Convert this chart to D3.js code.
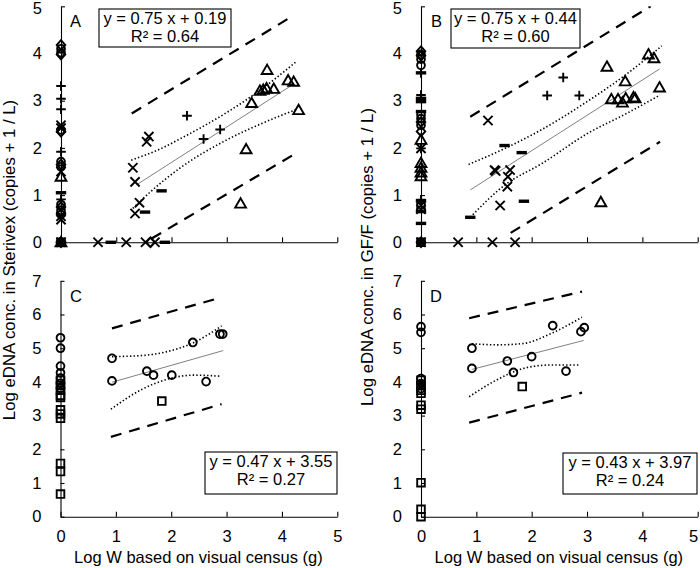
<!DOCTYPE html>
<html><head><meta charset="utf-8">
<script src="https://cdn.jsdelivr.net/npm/d3@7"></script>
<style>
body{margin:0;background:#fff;}
svg{display:block;font-family:"Liberation Sans",Arial,sans-serif;}
</style></head>
<body><svg id="c" width="700" height="568"></svg>
<script>
// ---------- DATA ----------
const xTicks = [0,1,2,3,4,5];
const yTicksTop = [0,1,2,3,4,5];
const yTicksBottom = [0,1,2,3,4,5,6,7];
const panelLabels = ["A","B","C","D"];
const equations = ["y = 0.75 x + 0.19","y = 0.75 x + 0.44","y = 0.47 x + 3.55","y = 0.43 x + 3.97"];
const rSquared = ["R\u00b2 = 0.64","R\u00b2 = 0.60","R\u00b2 = 0.27","R\u00b2 = 0.24"];
const xLabel = "Log W based on visual census (g)";
const yLabelTop = "Log eDNA conc. in Sterivex (copies + 1 / L)";
const yLabelRight = "Log eDNA conc. in GF/F (copies + 1 / L)";

// Panel A (Sterivex)
const A_cross = [[0.67,0],[1.18,0],[1.53,0],[1.70,0],[1.30,1.58],[1.34,1.28],[1.42,0.84],[1.34,0.61],[1.59,2.24],[1.55,2.13],
  [0,2.48],[0,2.42],[0,1.50],[0,0.55],[0,0.48],[0,0]];
const A_plus = [[2.28,2.68],[2.58,2.19],[2.88,2.39],[0,3.31],[0,3.04],[0,2.82],[0,1.92],[0,0.91],[0,0]];
const A_dash = [[0.90,0],[1.52,0.64],[1.82,1.09],[1.88,0],[0,1.05],[0,0]];
const A_tri = [[3.73,3.65],[3.45,2.95],[3.60,3.21],[3.66,3.23],[3.72,3.26],[3.85,3.25],[4.11,3.43],[4.21,3.40],[4.30,2.80],[3.35,1.97],[3.25,0.82],
  [0,1.39],[0,0]];
const A_circ = [[0,4.10],[0,4.02],[0,2.38],[0,1.71],[0,1.60],[0,0.80],[0,0.68],[0,0]];
const A_diam = [[1.62,0],[0,4.18],[0,3.98],[0,2.34],[0,1.65],[0,0.75],[0,0.60],[0,0]];
const A_sq = [[0,0]];
const A_fit = [[1.37,1.22],[4.22,3.36]];
const A_ciUp = [[1.27,1.74],[1.8,1.98],[2.2,2.22],[3.0,2.75],[3.6,3.22],[4.26,3.83]];
const A_ciLo = [[1.30,0.72],[1.6,1.05],[2.15,1.57],[3.0,2.17],[3.6,2.50],[4.27,2.82]];
const A_piUp = [[1.28,2.73],[4.20,4.80]];
const A_piLo = [[1.64,0.08],[4.20,1.85]];

// Panel B (GF/F)
const B_cross = [[0.67,0],[1.29,0],[1.70,0],[1.21,2.58],[1.33,1.53],[1.35,1.51],[1.61,1.53],[1.57,1.39],[1.56,1.18],[1.43,0.78],
  [0,1.99],[0,0.78],[0,0.70],[0,0]];
const B_plus = [[2.57,3.49],[2.28,3.11],[2.86,3.11],[0,3.59],[0,3.12],[0,1.99],[0,0.90],[0,0]];
const B_dash = [[0.89,0.53],[1.51,2.05],[1.82,1.90],[1.86,0.87],[0,3.59],[0,3.05],[0,2.98],[0,2.77],[0,0.88],[0,0.65],[0,0.40]];
const B_tri = [[3.36,3.72],[3.69,3.41],[4.11,3.98],[4.21,3.90],[4.31,3.28],[3.44,3.03],[3.56,3.03],[3.64,2.96],[3.70,3.05],[3.84,3.07],[3.87,3.05],[3.25,0.85],
  [0,2.17],[0,1.68],[0,1.58],[0,1.48],[0,1.40]];
const B_circ = [[0,3.98],[0,3.88],[0,3.75],[0,2.70],[0,2.62],[0,2.48],[0,0]];
const B_diam = [[0,4.05],[0,3.95],[0,2.55],[0,2.35],[0,0]];
const B_sq = [[0,0.75],[0,0]];
const B_fit = [[0.89,1.11],[4.31,3.67]];
const B_ciUp = [[0.86,1.65],[1.5,1.98],[2.2,2.40],[3.0,2.98],[3.7,3.55],[4.35,4.16]];
const B_ciLo = [[0.89,0.53],[1.5,1.20],[2.2,1.68],[3.0,2.30],[3.7,2.72],[4.32,3.12]];
const B_piUp = [[0.89,2.66],[4.15,5.0]];
const B_piLo = [[1.62,0.20],[4.32,2.13]];

// Panel C (Sterivex, second species)
const C_circ = [[0.93,4.70],[0.93,4.03],[1.56,4.32],[1.68,4.20],[2.01,4.20],[2.39,5.17],[2.63,4.01],[2.88,5.42],[2.93,5.42],
  [0,5.31],[0,5.00],[0,4.47],[0,4.27],[0,4.11],[0,3.96],[0,3.81]];
const C_sq = [[1.83,3.43],[0,4.05],[0,3.90],[0,3.75],[0,3.60],[0,3.54],[0,3.17],[0,3.05],[0,2.92],[0,1.58],[0,1.34],[0,0.67]];
const C_fit = [[0.93,3.99],[2.94,4.93]];
const C_ciUp = [[0.93,4.75],[1.45,4.78],[1.93,4.90],[2.41,5.17],[2.91,5.66]];
const C_ciLo = [[0.91,3.19],[1.45,3.76],[1.93,4.08],[2.41,4.20],[2.88,4.17]];
const C_piUp = [[0.93,5.59],[2.91,6.51]];
const C_piLo = [[0.91,2.37],[2.91,3.34]];

// Panel D (GF/F, second species)
const D_circ = [[0.92,5.00],[0.92,4.40],[1.56,4.62],[1.67,4.28],[2.00,4.75],[2.38,5.67],[2.62,4.32],[2.89,5.49],[2.95,5.61],
  [0,5.64],[0,5.47],[0,4.10],[0,3.95],[0,3.80]];
const D_sq = [[1.83,3.86],[0,4.05],[0,3.90],[0,3.75],[0,3.66],[0,3.31],[0,3.19],[0,1.01],[0,0.22],[0,0.0]];
const D_fit = [[0.92,4.37],[2.94,5.23]];
const D_ciUp = [[0.92,5.13],[1.4,5.10],[1.85,5.14],[2.33,5.42],[2.91,5.92]];
const D_ciLo = [[0.87,3.56],[1.37,4.06],[1.85,4.40],[2.33,4.50],[2.87,4.50]];
const D_piUp = [[0.87,5.89],[2.91,6.68]];
const D_piLo = [[0.87,2.79],[2.91,3.68]];

// ---------- DRAW ----------
const svg = d3.select("#c");
const FONT = 16.5;

const markerPaths = {
  cross: "M-4.6,-4.6L4.6,4.6M-4.6,4.6L4.6,-4.6",
  plus: "M-4.8,0L4.8,0M0,-4.8L0,4.8",
  dash: "M-5.2,0L5.2,0",
  tri: "M0,-5.4L5.4,4L-5.4,4Z",
  circ: "M3.9,0A3.9,3.9 0 1,1 -3.9,0A3.9,3.9 0 1,1 3.9,0Z",
  diam: "M0,-4.8L4.3,0L0,4.8L-4.3,0Z",
  sq: "M-3.8,-3.8L3.8,-3.8L3.8,3.8L-3.8,3.8Z"
};

const panels = [
  {id:0, left:61, right:337.3, top:6.3, bottom:242.3, yMax:5, yTicks:yTicksTop, xLabels:false,
   series:{cross:A_cross, plus:A_plus, dash:A_dash, tri:A_tri, circ:A_circ, diam:A_diam, sq:A_sq},
   fit:A_fit, ciUp:A_ciUp, ciLo:A_ciLo, piUp:A_piUp, piLo:A_piLo,
   box:{x:99,y:9,w:132,h:38}, lab:{x:70,y:26.5}},
  {id:1, left:421, right:697.7, top:6.3, bottom:242.3, yMax:5, yTicks:yTicksTop, xLabels:false,
   series:{cross:B_cross, plus:B_plus, dash:B_dash, tri:B_tri, circ:B_circ, diam:B_diam, sq:B_sq},
   fit:B_fit, ciUp:B_ciUp, ciLo:B_ciLo, piUp:B_piUp, piLo:B_piLo,
   box:{x:451,y:9,w:129,h:39}, lab:{x:431,y:26.5}},
  {id:2, left:60.5, right:337.3, top:280.8, bottom:516.7, yMax:7, yTicks:yTicksBottom, xLabels:true,
   series:{circ:C_circ, sq:C_sq},
   fit:C_fit, ciUp:C_ciUp, ciLo:C_ciLo, piUp:C_piUp, piLo:C_piLo,
   box:{x:205,y:452,w:132,h:42}, lab:{x:70,y:302}},
  {id:3, left:421, right:697.7, top:280.8, bottom:516.7, yMax:7, yTicks:yTicksBottom, xLabels:true,
   series:{circ:D_circ, sq:D_sq},
   fit:D_fit, ciUp:D_ciUp, ciLo:D_ciLo, piUp:D_piUp, piLo:D_piLo,
   box:{x:563,y:453,w:134,h:41}, lab:{x:430,y:302}}
];

panels.forEach(p => {
  const x = d3.scaleLinear().domain([0,5]).range([p.left, p.right]);
  const y = d3.scaleLinear().domain([0,p.yMax]).range([p.bottom, p.top]);
  const g = svg.append("g");

  const clipId = "clip"+p.id;
  svg.append("clipPath").attr("id",clipId).append("rect")
    .attr("x",p.left).attr("y",p.top).attr("width",p.right-p.left).attr("height",p.bottom-p.top);

  // axes
  const yAxis = d3.axisLeft(y).tickValues(p.yTicks).tickFormat(d3.format("d"))
    .tickSizeInner(-4).tickSizeOuter(0).tickPadding(19);
  const ya = g.append("g").attr("transform",`translate(${p.left},0)`).call(yAxis);
  const xAxis = d3.axisBottom(x).tickValues(xTicks).tickFormat(p.xLabels ? d3.format("d") : () => "")
    .tickSizeInner(-5).tickSizeOuter(0).tickPadding(13.6);
  const xa = g.append("g").attr("transform",`translate(0,${p.bottom})`).call(xAxis);
  [ya,xa].forEach(a => {
    a.selectAll("text").attr("font-size",FONT).attr("font-family","Liberation Sans, Arial, sans-serif").attr("fill","#000");
    a.selectAll("line,path").attr("stroke","#000").attr("stroke-width",1.1);
  });
  // keep edge labels fully inside the frame
  ya.selectAll(".tick").filter(d => d === p.yMax && p.yMax === 5).select("text").attr("dy","0.45em");
  xa.selectAll(".tick").filter(d => d === 5 && p.id === 3).select("text").attr("dx","-4.5");

  // regression and bands
  const line = d3.line().x(d=>x(d[0])).y(d=>y(d[1]));
  const curve = d3.line().x(d=>x(d[0])).y(d=>y(d[1])).curve(d3.curveMonotoneX);
  const lg = g.append("g").attr("clip-path",`url(#${clipId})`).attr("fill","none");
  lg.append("path").attr("d",line(p.fit)).attr("stroke","#808080").attr("stroke-width",1);
  [p.ciUp,p.ciLo].forEach(c => lg.append("path").attr("d",curve(c)).attr("stroke","#000")
    .attr("stroke-width",1.6).attr("stroke-dasharray","1.4,2.2"));
  [p.piUp,p.piLo].forEach(c => lg.append("path").attr("d",line(c)).attr("stroke","#000")
    .attr("stroke-width",2.2).attr("stroke-dasharray","11,8"));

  // markers
  const mg = g.append("g").attr("fill","none").attr("stroke","#000");
  Object.entries(p.series).forEach(([k,data]) => {
    mg.selectAll(null).data(data).enter().append("path")
      .attr("d",markerPaths[k])
      .attr("transform",d=>`translate(${x(d[0])},${y(d[1])})`)
      .attr("stroke-width", k==="dash" ? 3.4 : 1.9);
  });

  // equation box
  g.append("rect").attr("x",p.box.x).attr("y",p.box.y).attr("width",p.box.w).attr("height",p.box.h)
    .attr("fill","#fff").attr("stroke","#000").attr("stroke-width",1.1);
  const cx = p.box.x + p.box.w/2;
  g.append("text").attr("x",cx).attr("y",p.box.y+14.5).attr("text-anchor","middle").attr("font-size",FONT).text(equations[p.id]);
  g.append("text").attr("x",cx).attr("y",p.box.y+33).attr("text-anchor","middle").attr("font-size",FONT).text(rSquared[p.id]);

  // panel letter
  g.append("text").attr("x",p.lab.x).attr("y",p.lab.y).attr("font-size",FONT).text(panelLabels[p.id]);

  if (p.xLabels) {
    g.append("text").attr("x",(p.left+p.right)/2 - 0.5).attr("y",563).attr("text-anchor","middle")
      .attr("font-size",FONT).text(xLabel);
  }
});

// y labels
svg.append("text").attr("transform","translate(15,260) rotate(-90)").attr("text-anchor","middle")
  .attr("font-size",16.8).text(yLabelTop);
svg.append("text").attr("transform","translate(373,257) rotate(-90)").attr("text-anchor","middle")
  .attr("font-size",16.8).text(yLabelRight);
</script></body></html>
